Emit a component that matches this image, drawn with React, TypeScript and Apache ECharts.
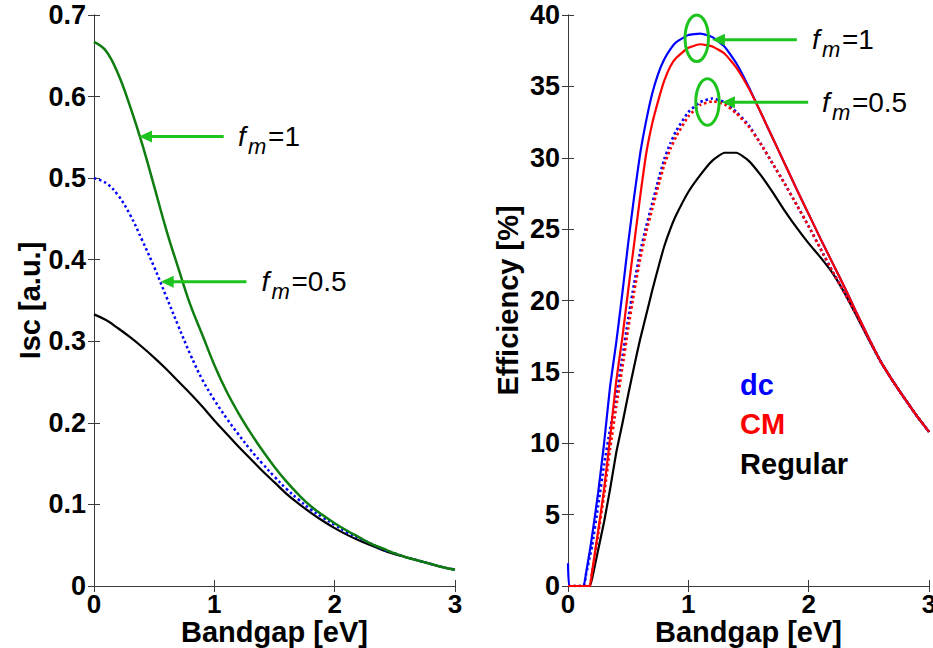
import React, { useEffect, useRef } from "react";
import * as echarts from "echarts";

// ---------- Left panel: short-circuit current vs bandgap ----------
const iscBandgap = [0, 0.1, 0.2, 0.3, 0.4, 0.5, 0.6, 0.7, 0.8, 0.9, 1.0, 1.1, 1.2, 1.3, 1.4, 1.5, 1.6, 1.7, 1.8, 1.9, 2.0, 2.1, 2.2, 2.3, 2.4, 2.5, 2.6, 2.7, 2.8, 2.9, 3.0];
const iscFm1 = [0.667, 0.656, 0.628, 0.588, 0.542, 0.490, 0.437, 0.390, 0.345, 0.308, 0.271, 0.239, 0.212, 0.188, 0.166, 0.146, 0.128, 0.112, 0.098, 0.087, 0.077, 0.068, 0.060, 0.052, 0.046, 0.040, 0.035, 0.031, 0.027, 0.023, 0.020];
const iscFm05 = [0.500, 0.494, 0.479, 0.455, 0.424, 0.391, 0.355, 0.319, 0.284, 0.253, 0.228, 0.206, 0.186, 0.167, 0.150, 0.134, 0.119, 0.106, 0.094, 0.084, 0.075, 0.066, 0.059, 0.052, 0.045, 0.040, 0.035, 0.031, 0.027, 0.023, 0.020];
const iscRegular = [0.333, 0.326, 0.316, 0.305, 0.293, 0.280, 0.266, 0.251, 0.236, 0.220, 0.203, 0.187, 0.171, 0.156, 0.141, 0.127, 0.113, 0.101, 0.090, 0.080, 0.071, 0.063, 0.056, 0.050, 0.044, 0.039, 0.035, 0.031, 0.027, 0.023, 0.020];

// ---------- Right panel: efficiency vs bandgap ----------
const effBandgap = [0, 0.01, 0.05, 0.1, 0.13, 0.15, 0.18, 0.2, 0.25, 0.3, 0.35, 0.4, 0.45, 0.5, 0.55, 0.6, 0.65, 0.7, 0.75, 0.8, 0.85, 0.9, 1.0, 1.1, 1.2, 1.3, 1.4, 1.5, 1.6, 1.7, 1.8, 1.9, 2.0, 2.1, 2.2, 2.3, 2.4, 2.5, 2.6, 2.7, 2.8, 2.9, 3.0];
const effDcFm1 = [1.6, 0, 0, 0, 0, 0.9, 2.4, 3.5, 6.5, 10.0, 14.0, 17.0, 20.4, 24.0, 27.3, 30.3, 32.6, 34.5, 35.9, 36.9, 37.6, 38.1, 38.6, 38.7, 38.45, 37.8, 36.6, 35.0, 33.2, 31.4, 29.6, 27.8, 26.05, 24.3, 22.6, 20.9, 19.1, 17.35, 15.7, 14.35, 13.1, 11.9, 10.8];
const effCmFm1 = [0, 0, 0, 0, 0, 0, 0, 1.0, 3.8, 6.8, 10.4, 14.3, 17.3, 20.7, 24.0, 27.3, 30.3, 32.4, 34.0, 35.4, 36.4, 37.0, 37.7, 37.95, 37.8, 37.3, 36.3, 34.9, 33.2, 31.4, 29.6, 27.8, 26.05, 24.3, 22.6, 20.9, 19.1, 17.35, 15.7, 14.35, 13.1, 11.9, 10.8];
const effDcFm05 = [0, 0, 0, 0, 0, 0.8, 2.0, 2.8, 5.6, 8.5, 11.0, 13.2, 15.9, 18.7, 21.2, 23.4, 25.2, 26.8, 28.4, 29.9, 31.0, 31.9, 33.2, 33.9, 34.15, 33.9, 33.2, 32.3, 31.0, 29.6, 28.2, 26.7, 25.2, 23.6, 22.0, 20.5, 18.95, 17.3, 15.7, 14.35, 13.1, 11.9, 10.8];
const effCmFm05 = [0, 0, 0, 0, 0, 0, 0, 0.9, 3.6, 6.4, 9.6, 12.5, 15.2, 18.0, 20.6, 22.9, 24.8, 26.4, 28.0, 29.5, 30.6, 31.5, 32.9, 33.7, 33.95, 33.75, 33.1, 32.2, 31.0, 29.6, 28.2, 26.7, 25.2, 23.6, 22.0, 20.5, 18.95, 17.3, 15.7, 14.35, 13.1, 11.9, 10.8];
const effRegular = [0, 0, 0, 0, 0, 0, 0, 0.5, 2.5, 4.5, 6.8, 9.3, 11.3, 13.4, 15.4, 17.3, 19.0, 20.7, 22.3, 23.8, 25.0, 26.0, 27.6, 28.8, 29.8, 30.35, 30.35, 29.8, 28.8, 27.6, 26.3, 25.1, 24.0, 23.0, 21.9, 20.5, 18.9, 17.25, 15.7, 14.35, 13.1, 11.9, 10.8];

const legendLabels = ["dc", "CM", "Regular"];
const legendColors = ["#0000ff", "#ff0000", "#000000"];

const FONT = "'Liberation Sans', Arial, Helvetica, sans-serif";
const AXIS = "#3a3a3a";
const ARROW = "#1ec41e";

const zip = (xs: number[], ys: number[]) => xs.map((x, i) => [x, ys[i]]);

function xAxes(gridIndex: number) {
  return [
    {
      type: "value", gridIndex, position: "bottom", min: 0, max: 3, interval: 1,
      name: "Bandgap [eV]", nameLocation: "middle", nameGap: 34, nameMoveOverlap: false,
      nameTextStyle: { fontFamily: FONT, fontWeight: "bold", fontSize: 29, lineHeight: 24, color: "#000" },
      axisLine: { show: true, lineStyle: { color: AXIS, width: 1 } },
      axisTick: { show: true, inside: true, length: 6, lineStyle: { color: AXIS } },
      axisLabel: { show: true, margin: 8, fontFamily: FONT, fontWeight: "bold", fontSize: 26, lineHeight: 20, color: "#000", hideOverlap: false, showMinLabel: true, showMaxLabel: true },
      splitLine: { show: false },
    },
    {
      type: "value", gridIndex, position: "top", min: 0, max: 3, interval: 1,
      axisLine: { show: true, lineStyle: { color: AXIS, width: 1 } },
      axisTick: { show: true, inside: true, length: 6, lineStyle: { color: AXIS } },
      axisLabel: { show: false },
      splitLine: { show: false },
    },
  ];
}

function yAxes(gridIndex: number, max: number, interval: number, name: string, nameGap: number, fmt: (v: number) => string) {
  return [
    {
      type: "value", gridIndex, position: "left", min: 0, max, interval,
      name, nameLocation: "middle", nameGap, nameRotate: 90, nameMoveOverlap: false,
      nameTextStyle: { fontFamily: FONT, fontWeight: "bold", fontSize: 29, color: "#000" },
      axisLine: { show: true, lineStyle: { color: AXIS, width: 1 } },
      axisTick: { show: true, inside: true, length: 6, lineStyle: { color: AXIS } },
      axisLabel: { show: true, margin: 8, fontFamily: FONT, fontWeight: "bold", fontSize: 27, color: "#000", formatter: fmt, showMinLabel: true, showMaxLabel: true },
      splitLine: { show: false },
    },
    {
      type: "value", gridIndex, position: "right", min: 0, max, interval,
      axisLine: { show: true, lineStyle: { color: AXIS, width: 1 } },
      axisTick: { show: true, inside: true, length: 6, lineStyle: { color: AXIS } },
      axisLabel: { show: false },
      splitLine: { show: false },
    },
  ];
}

function line(name: string, xi: number, yi: number, data: number[][], color: string, width: number, dotted: boolean, smooth: number | boolean) {
  return {
    type: "line", name, xAxisIndex: xi, yAxisIndex: yi, data,
    symbol: "none", showSymbol: false, smooth, z: 3,
    lineStyle: { color, width, type: dotted ? [2.5, 2.8] : "solid" },
    emphasis: { disabled: true },
  };
}

export default function App() {
  const ref = useRef<HTMLDivElement>(null);
  useEffect(() => {
    if (!ref.current) return;
    const chart = echarts.init(ref.current, null, { renderer: "svg" });
    chart.setOption({
      animation: false,
      backgroundColor: "#ffffff",
      grid: [
        { left: 94, top: 15, width: 361, height: 571, containLabel: false, outerBoundsMode: "none" },
        { left: 568, top: 15, width: 361, height: 571, containLabel: false, outerBoundsMode: "none" },
      ],
      xAxis: [...xAxes(0), ...xAxes(1)],
      yAxis: [
        ...yAxes(0, 0.7, 0.1, "Isc [a.u.]", 50, (v: number) => (v === 0 ? "0" : v.toFixed(1))),
        ...yAxes(1, 40, 5, "Efficiency [%]", 46, (v: number) => String(v)),
      ],
      series: [
        line("Regular", 0, 0, zip(iscBandgap, iscRegular), "#000000", 2.2, false, 0.4),
        line("fm=0.5", 0, 0, zip(iscBandgap, iscFm05), "#0000ff", 2.5, true, 0.4),
        line("fm=1", 0, 0, zip(iscBandgap, iscFm1), "#0f7d0f", 2.5, false, 0.4),
        line("Regular", 2, 2, zip(effBandgap, effRegular), "#000000", 2.2, false, 0.15),
        line("dc fm=0.5", 2, 2, zip(effBandgap, effDcFm05), "#0000ff", 2.6, true, 0.15),
        line("CM fm=0.5", 2, 2, zip(effBandgap, effCmFm05), "#ff0000", 2.6, true, 0.15),
        line("dc fm=1", 2, 2, zip(effBandgap, effDcFm1), "#0000ff", 2.2, false, 0.15),
        line("CM fm=1", 2, 2, zip(effBandgap, effCmFm1), "#ff0000", 2.2, false, 0.15),
      ],
    });

    const px = (g: number, p: number[]) => chart.convertToPixel({ gridIndex: g } as any, p) as number[];

    const arrow = (g: number, tip: number[], tailX: number) => {
      const t = px(g, tip);
      const tail = px(g, [tailX, tip[1]]);
      return [
        { type: "line", z: 10, shape: { x1: t[0] + 10, y1: t[1], x2: tail[0], y2: t[1] }, style: { stroke: ARROW, lineWidth: 3 } },
        { type: "polygon", z: 10, shape: { points: [[t[0], t[1]], [t[0] + 13, t[1] - 6], [t[0] + 13, t[1] + 6]] }, style: { fill: ARROW } },
      ];
    };
    const fmLabel = (g: number, pos: number[], value: string) => {
      const p = px(g, pos);
      const base = { fontFamily: FONT, fill: "#000", verticalAlign: "middle", align: "left" };
      return [
        { type: "text", z: 10, x: p[0], y: p[1], style: { ...base, text: "f", fontSize: 28, fontStyle: "italic" } },
        { type: "text", z: 10, x: p[0] + 10, y: p[1] + 10, style: { ...base, text: "m", fontSize: 22, fontStyle: "italic" } },
        { type: "text", z: 10, x: p[0] + 30, y: p[1], style: { ...base, text: "=" + value, fontSize: 28 } },
      ];
    };
    const ring = (g: number, c: number[]) => {
      const p = px(g, c);
      return { type: "ellipse", z: 10, shape: { cx: p[0], cy: p[1], rx: 11.7, ry: 23.3 }, style: { fill: "none", stroke: ARROW, lineWidth: 3 } };
    };
    const legendPos = [14.08, 11.35, 8.55];
    const legend = legendLabels.map((t, i) => {
      const p = px(1, [1.43, legendPos[i]]);
      return { type: "text", z: 10, x: p[0], y: p[1], style: { text: t, fill: legendColors[i], fontFamily: FONT, fontWeight: "bold", fontSize: 29, verticalAlign: "middle", align: "left" } };
    });

    chart.setOption({
      graphic: [
        ...arrow(0, [0.374, 0.551], 1.078),
        ...fmLabel(0, [1.197, 0.551], "1"),
        ...arrow(0, [0.554, 0.373], 1.267),
        ...fmLabel(0, [1.391, 0.373], "0.5"),
        ring(1, [1.07, 38.37]),
        ring(1, [1.159, 33.91]),
        ...arrow(1, [1.196, 38.27], 1.902),
        ...fmLabel(1, [2.027, 38.27], "1"),
        ...arrow(1, [1.279, 33.88], 1.996),
        ...fmLabel(1, [2.11, 33.88], "0.5"),
        ...legend,
      ],
    });
    return () => chart.dispose();
  }, []);
  return <div ref={ref} style={{ position: "absolute", left: 0, top: 0, width: 933, height: 648 }} />;
}
